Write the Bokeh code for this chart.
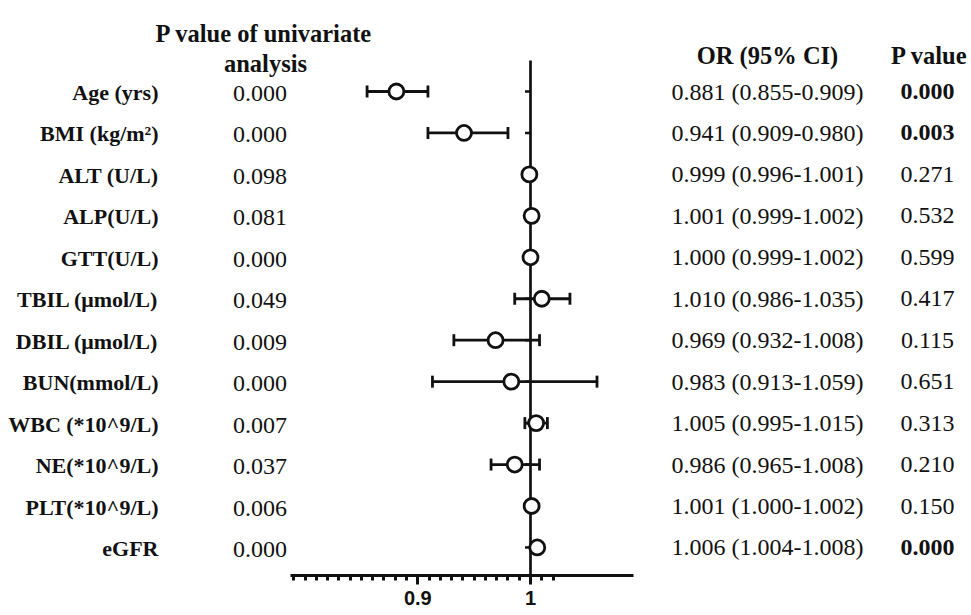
from bokeh.plotting import figure
from bokeh.models import (ColumnDataSource, Range1d, LinearAxis, FixedTicker,
                          Whisker, TeeHead, NumeralTickFormatter)
from bokeh.core.properties import value, field
from bokeh.embed import file_html
from bokeh.resources import INLINE

# ---------------- data ----------------
variables = ["Age (yrs)", "BMI (kg/m\u00b2)", "ALT (U/L)", "ALP(U/L)", "GTT(U/L)",
             "TBIL (\u03bcmol/L)", "DBIL (\u03bcmol/L)", "BUN(mmol/L)", "WBC (*10^9/L)",
             "NE(*10^9/L)", "PLT(*10^9/L)", "eGFR"]
p_univariate = ["0.000", "0.000", "0.098", "0.081", "0.000", "0.049",
                "0.009", "0.000", "0.007", "0.037", "0.006", "0.000"]
odds_ratio = [0.881, 0.941, 0.999, 1.001, 1.000, 1.010, 0.969, 0.983, 1.005, 0.986, 1.001, 1.006]
ci_lower = [0.855, 0.909, 0.996, 0.999, 0.999, 0.986, 0.932, 0.913, 0.995, 0.965, 1.000, 1.004]
ci_upper = [0.909, 0.980, 1.001, 1.002, 1.002, 1.035, 1.008, 1.059, 1.015, 1.008, 1.002, 1.008]
p_multivariate = ["0.000", "0.003", "0.271", "0.532", "0.599", "0.417",
                  "0.115", "0.651", "0.313", "0.210", "0.150", "0.000"]
null_or = 1.0
x_major_ticks = [0.9, 1.0]
x_minor_ticks = [0.79, 0.80, 0.81, 0.82, 0.83, 0.84, 0.85, 0.86, 0.87, 0.88, 0.89,
                 0.91, 0.92, 0.93, 0.94, 0.95, 0.96, 0.97, 0.98, 0.99, 1.01, 1.02]
header_univariate = ["P value of univariate", "analysis"]
header_or = "OR (95% CI)"
header_p = "P value"

# ---------------- layout constants ----------------
W, H = 971, 615
PX_PER_UNIT = 1127.0
X_ONE_PX = 530.0
ROW_PX = 41.45
ROW0_PX = 91.0


def xd(px):
    return 1.0 + (px - X_ONE_PX) / PX_PER_UNIT


def yd(py):
    return (py - ROW0_PX) / ROW_PX


SERIF = value("Liberation Serif")
BLACK = "#111111"

rows = list(range(len(variables)))
src = ColumnDataSource(dict(
    row=rows,
    label=variables,
    puni=p_univariate,
    orv=odds_ratio,
    lo=ci_lower,
    hi=ci_upper,
    ortext=["%.3f (%.3f-%.3f)" % (o, l, h) for o, l, h in zip(odds_ratio, ci_lower, ci_upper)],
    pmulti=p_multivariate,
    pstyle=["bold" if float(v) < 0.05 else "normal" for v in p_multivariate],
))

p = figure(width=W, height=H, x_range=Range1d(xd(0), xd(W)), y_range=Range1d(yd(H), yd(0)),
           x_axis_type=None, y_axis_type=None, min_border=0, outline_line_color=None,
           toolbar_location=None, output_backend="svg", background_fill_color="white")

# x axis (OR scale)
xaxis = LinearAxis(fixed_location=yd(575), bounds=(xd(290), xd(633)),
                   ticker=FixedTicker(ticks=x_major_ticks, minor_ticks=x_minor_ticks),
                   formatter=NumeralTickFormatter(format="0.[0]"),
                   axis_line_width=3, axis_line_color=BLACK,
                   major_tick_line_width=3, major_tick_out=9, major_tick_in=0,
                   major_tick_line_color=BLACK,
                   minor_tick_line_width=3, minor_tick_out=5, minor_tick_in=0,
                   minor_tick_line_color=BLACK,
                   major_label_standoff=6,
                   major_label_text_font="Liberation Sans",
                   major_label_text_font_style="bold",
                   major_label_text_font_size="20px",
                   major_label_text_color=BLACK)
p.add_layout(xaxis, "below")

# vertical line of no effect (OR = 1) with a small tick at each row
p.segment(x0=[null_or], x1=[null_or], y0=[yd(60)], y1=[yd(575)],
          line_width=2.7, line_color=BLACK, level="underlay")
p.segment(x0=[null_or - 5.5 / PX_PER_UNIT] * len(rows), x1=[null_or] * len(rows),
          y0=rows, y1=rows, line_width=2.5, line_color=BLACK, level="underlay")

# confidence intervals
p.add_layout(Whisker(source=src, base="row", lower="lo", upper="hi", dimension="width",
                     line_width=2.8, line_color=BLACK, level="glyph",
                     lower_head=TeeHead(size=12, line_width=2.8, line_color=BLACK),
                     upper_head=TeeHead(size=12, line_width=2.8, line_color=BLACK)))

# point estimates
p.scatter(x="orv", y="row", source=src, size=15, marker="circle", fill_color="white",
          line_color=BLACK, line_width=2.8, level="overlay")

# ---------- table texts ----------
p.text(x=xd(158), y="row", text="label", source=src, text_align="right",
       text_baseline="middle", text_font=SERIF, text_font_style="bold",
       text_font_size="22px", text_color=BLACK, y_offset=1)
p.text(x=xd(259.5), y="row", text="puni", source=src, text_align="center",
       text_baseline="middle", text_font=SERIF, text_font_size="24px",
       text_color=BLACK, y_offset=2)
p.text(x=xd(671), y="row", text="ortext", source=src, text_align="left",
       text_baseline="middle", text_font=SERIF, text_font_size="24px",
       text_color=BLACK, y_offset=0)
p.text(x=xd(927), y="row", text="pmulti", source=src, text_align="center",
       text_baseline="middle", text_font=SERIF, text_font_style=field("pstyle"),
       text_font_size="24px", text_color=BLACK, y_offset=0)

# headers
p.text(x=[xd(263.5), xd(265)], y=[yd(33), yd(63)], text=header_univariate,
       text_align="center", text_baseline="alphabetic", text_font=SERIF,
       text_font_style="bold", text_font_size="24.5px", text_color=BLACK)
p.text(x=[xd(767), xd(929)], y=[yd(55), yd(55)], text=[header_or, header_p],
       text_align="center", text_baseline="alphabetic", text_font=SERIF,
       text_font_style="bold", text_font_size="24.5px", text_color=BLACK)

open("out.html", "w").write(file_html(p, INLINE))
